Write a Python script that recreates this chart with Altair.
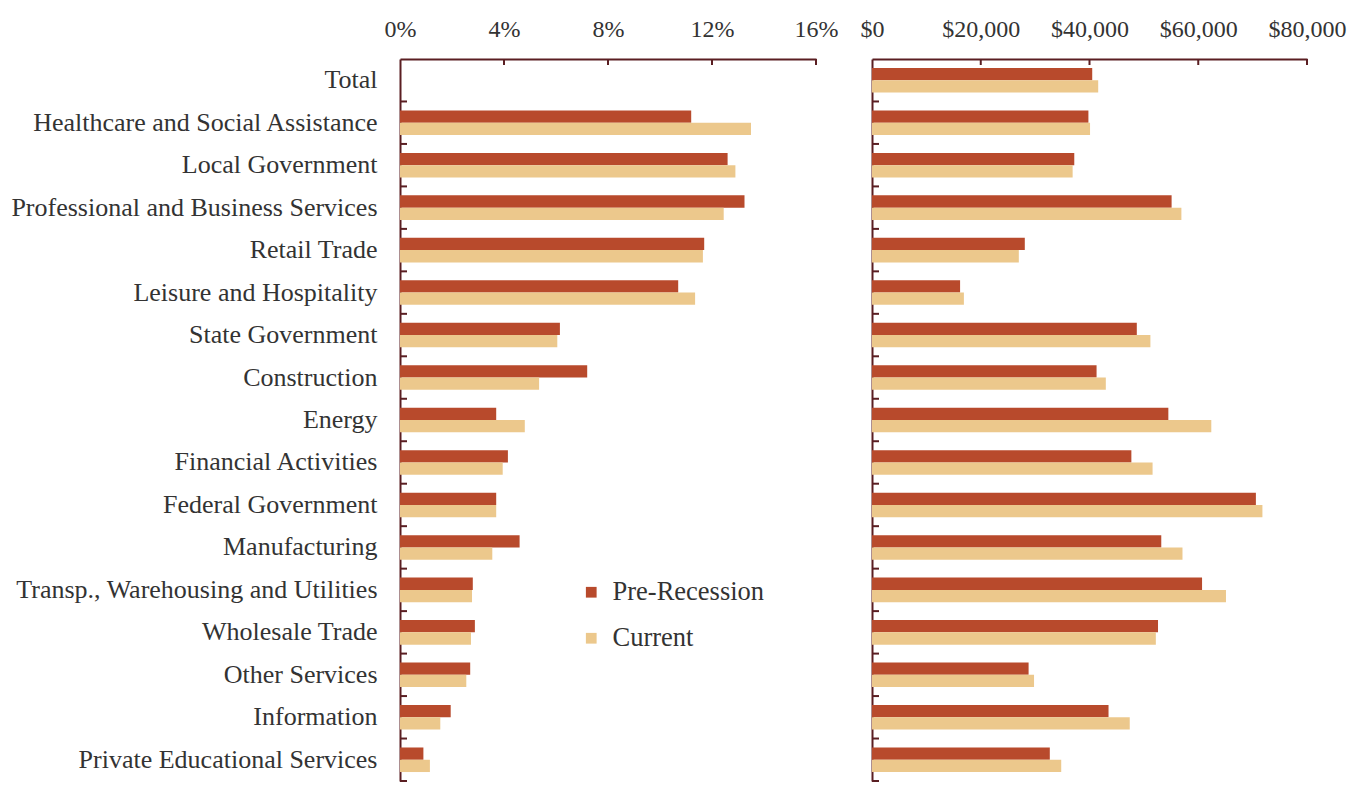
import altair as alt
import pandas as pd

# Industries, top to bottom
industries = [
    "Total",
    "Healthcare and Social Assistance",
    "Local Government",
    "Professional and Business Services",
    "Retail Trade",
    "Leisure and Hospitality",
    "State Government",
    "Construction",
    "Energy",
    "Financial Activities",
    "Federal Government",
    "Manufacturing",
    "Transp., Warehousing and Utilities",
    "Wholesale Trade",
    "Other Services",
    "Information",
    "Private Educational Services",
]

series = ["Pre-Recession", "Current"]
series_colors = ["#B84A2C", "#ECC88C"]

# Share of total employment (%), no share shown for the Total row
share_pre = [None, 11.2, 12.6, 13.25, 11.7, 10.7, 6.15, 7.2, 3.7, 4.15, 3.7, 4.6, 2.8, 2.88, 2.7, 1.95, 0.9]
share_cur = [None, 13.5, 12.9, 12.45, 11.65, 11.35, 6.05, 5.35, 4.8, 3.95, 3.7, 3.55, 2.77, 2.73, 2.55, 1.55, 1.15]

# Average annual wage ($)
wage_pre = [40500, 39800, 37200, 55100, 28100, 16200, 48700, 41300, 54500, 47700, 70600, 53200, 60700, 52600, 28800, 43500, 32700]
wage_cur = [41600, 40100, 36900, 56900, 27000, 16900, 51200, 43000, 62400, 51600, 71800, 57100, 65100, 52200, 29800, 47400, 34800]

share_ticks = [0, 4, 8, 12, 16]
wage_ticks = [0, 20000, 40000, 60000, 80000]

FONT = "Liberation Serif"
TEXT = "#333333"
LINE = "#5A1E22"
PLOT_H = 722


def long_frame(pre, cur):
    return pd.DataFrame({
        "industry": industries * 2,
        "series": [series[0]] * len(industries) + [series[1]] * len(industries),
        "value": pre + cur,
    })


def panel(df, domain, ticks, width, x_axis_extra, show_labels, legend):
    y_scale = alt.Scale(domain=industries, paddingInner=0, paddingOuter=0)
    x_scale = alt.Scale(domain=domain, nice=False, zero=True)

    if show_labels:
        y_axis = alt.Axis(title=None, ticks=False, labelFont=FONT, labelFontSize=26,
                          labelColor=TEXT, labelPadding=23, labelLimit=600,
                          domainColor=LINE, domainWidth=2)
    else:
        y_axis = alt.Axis(title=None, ticks=False, labels=False,
                          domainColor=LINE, domainWidth=2)

    x_axis = alt.Axis(title=None, orient="top", values=ticks, ticks=False, grid=False,
                      labelFont=FONT, labelFontSize=24, labelColor=TEXT, labelPadding=18,
                      domainColor=LINE, domainWidth=2, labelFlush=False, labelOverlap=False,
                      **x_axis_extra)

    bars = alt.Chart(df).mark_bar().encode(
        x=alt.X("value:Q", scale=x_scale, axis=x_axis),
        y=alt.Y("industry:N", scale=y_scale, axis=y_axis),
        yOffset=alt.YOffset("series:N",
                            scale=alt.Scale(domain=series, paddingInner=0, paddingOuter=0.73)),
        color=alt.Color("series:N", scale=alt.Scale(domain=series, range=series_colors),
                        legend=legend),
    )

    # inward tick marks on the top axis
    x_tick_df = pd.DataFrame({"value": ticks[1:]})
    x_tick_marks = alt.Chart(x_tick_df).mark_rule(color=LINE, strokeWidth=2).encode(
        x=alt.X("value:Q", scale=x_scale),
        y=alt.value(0),
        y2=alt.value(6),
    )

    # inward tick marks at the category boundaries on the left axis
    y_tick_df = pd.DataFrame({"industry": industries})
    y_tick_marks = alt.Chart(y_tick_df).mark_rule(color=LINE, strokeWidth=2).encode(
        y=alt.Y("industry:N", scale=y_scale, bandPosition=1),
        x=alt.value(0),
        x2=alt.value(7),
    )

    return alt.layer(bars, x_tick_marks, y_tick_marks).properties(width=width, height=PLOT_H)


legend = alt.Legend(title=None, orient="none", legendX=178, legendY=520,
                    symbolType="square", symbolSize=115, symbolStrokeWidth=0,
                    labelFont=FONT, labelFontSize=26.5, labelColor=TEXT,
                    rowPadding=19, labelOffset=8)

left = panel(long_frame(share_pre, share_cur), [0, 16], share_ticks, 416,
             {"labelExpr": "datum.value + '%'"}, True, legend)
right = panel(long_frame(wage_pre, wage_cur), [0, 80000], wage_ticks, 435,
              {"format": "$,.0f"}, False, None)

chart = alt.hconcat(left, right, spacing=56, bounds="flush").properties(
    padding={"left": 10, "top": 17, "right": 5, "bottom": 0},
    background="white",
).configure_view(stroke=None)

chart.save("out.html", embed_options={"renderer": "svg", "actions": False})
